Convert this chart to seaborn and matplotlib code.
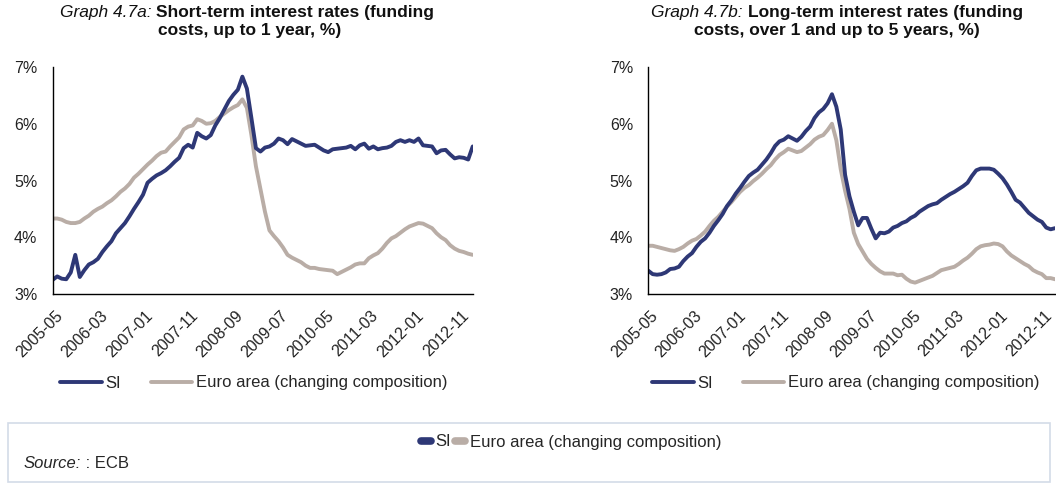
import numpy as np
import pandas as pd
import matplotlib
matplotlib.use("Agg")
import matplotlib.pyplot as plt
import matplotlib.transforms as mtransforms
import seaborn as sns
from matplotlib.lines import Line2D
from matplotlib.patches import Rectangle
from matplotlib.ticker import FuncFormatter

# monthly data, 2005-05 .. 2013-02
months = pd.period_range("2005-05", "2013-02", freq="M")

si_short = [3.25, 3.31, 3.27, 3.26, 3.38, 3.69, 3.30, 3.42, 3.52, 3.56,
            3.62, 3.74, 3.84, 3.93, 4.07, 4.16, 4.25, 4.37, 4.50, 4.62,
            4.75, 4.96, 5.03, 5.09, 5.13, 5.18, 5.25, 5.33, 5.40, 5.57,
            5.63, 5.58, 5.84, 5.78, 5.74, 5.80, 5.97, 6.10, 6.25, 6.40,
            6.51, 6.60, 6.83, 6.62, 6.10, 5.57, 5.51, 5.58, 5.60, 5.65,
            5.74, 5.71, 5.64, 5.73, 5.69, 5.65, 5.61, 5.62, 5.63, 5.58,
            5.53, 5.50, 5.55, 5.56, 5.57, 5.58, 5.61, 5.55, 5.62, 5.65,
            5.56, 5.60, 5.55, 5.57, 5.58, 5.61, 5.68, 5.71, 5.68, 5.71,
            5.68, 5.74, 5.62, 5.61, 5.60, 5.48, 5.53, 5.54, 5.46, 5.39,
            5.41, 5.40, 5.37, 5.60]
ea_short = [4.33, 4.33, 4.31, 4.27, 4.25, 4.25, 4.27, 4.33, 4.38, 4.45,
            4.50, 4.54, 4.60, 4.65, 4.72, 4.80, 4.86, 4.94, 5.05, 5.12,
            5.20, 5.28, 5.35, 5.43, 5.49, 5.51, 5.60, 5.68, 5.76, 5.90,
            5.95, 5.97, 6.08, 6.05, 6.00, 6.01, 6.05, 6.12, 6.18, 6.24,
            6.29, 6.33, 6.43, 6.28, 5.80, 5.25, 4.85, 4.45, 4.12, 4.02,
            3.93, 3.82, 3.69, 3.64, 3.60, 3.56, 3.50, 3.46, 3.46, 3.44,
            3.43, 3.42, 3.41, 3.35, 3.39, 3.43, 3.47, 3.52, 3.54, 3.54,
            3.63, 3.68, 3.72, 3.80, 3.90, 3.98, 4.02, 4.08, 4.14, 4.19,
            4.22, 4.25, 4.24, 4.20, 4.16, 4.07, 4.00, 3.95, 3.86, 3.80,
            3.76, 3.74, 3.71, 3.69]
si_long = [3.41, 3.35, 3.34, 3.35, 3.38, 3.44, 3.45, 3.48, 3.58, 3.66,
           3.72, 3.83, 3.92, 3.98, 4.08, 4.20, 4.30, 4.41, 4.55, 4.65,
           4.77, 4.87, 4.98, 5.08, 5.14, 5.19, 5.28, 5.37, 5.48, 5.61,
           5.69, 5.72, 5.78, 5.74, 5.70, 5.77, 5.87, 5.95, 6.10, 6.20,
           6.26, 6.36, 6.52, 6.30, 5.90, 5.10, 4.72, 4.45, 4.21, 4.34,
           4.34, 4.15, 3.98, 4.08, 4.07, 4.10, 4.17, 4.20, 4.25, 4.28,
           4.34, 4.38, 4.45, 4.50, 4.55, 4.58, 4.60, 4.66, 4.71, 4.76,
           4.80, 4.85, 4.90, 4.96, 5.08, 5.18, 5.21, 5.21, 5.21, 5.19,
           5.12, 5.04, 4.93, 4.80, 4.66, 4.61, 4.52, 4.43, 4.37, 4.31,
           4.27, 4.17, 4.14, 4.16]
ea_long = [3.85, 3.85, 3.83, 3.81, 3.79, 3.77, 3.76, 3.79, 3.83, 3.89,
           3.94, 3.97, 4.03, 4.10, 4.20, 4.29, 4.36, 4.45, 4.54, 4.62,
           4.71, 4.80, 4.87, 4.92, 4.99, 5.05, 5.12, 5.20, 5.27, 5.37,
           5.45, 5.50, 5.56, 5.53, 5.50, 5.52, 5.58, 5.64, 5.72, 5.77,
           5.80, 5.89, 6.00, 5.71, 5.20, 4.82, 4.50, 4.08, 3.88, 3.75,
           3.62, 3.53, 3.46, 3.40, 3.36, 3.36, 3.36, 3.33, 3.34, 3.27,
           3.22, 3.20, 3.23, 3.26, 3.29, 3.32, 3.37, 3.42, 3.44, 3.46,
           3.48, 3.53, 3.59, 3.64, 3.71, 3.79, 3.84, 3.86, 3.87, 3.89,
           3.88, 3.84, 3.75, 3.68, 3.63, 3.58, 3.53, 3.49, 3.42, 3.38,
           3.35, 3.28, 3.28, 3.26]

series_names = ["SI", "Euro area (changing composition)"]
colors = {"SI": "#2E3876", "Euro area (changing composition)": "#B9ADA6"}

sns.set_style("white")
plt.rcParams["font.family"] = ["Liberation Sans", "DejaVu Sans"]

W, H = 1056, 483
fig = plt.figure(figsize=(W / 100, H / 100), dpi=100)


def px_axes(x0, y_top, x1, y_bot):
    return fig.add_axes([x0 / W, 1 - y_bot / H, (x1 - x0) / W, (y_bot - y_top) / H])


ax1 = px_axes(52.7, 67, 472.7, 294)
ax2 = px_axes(648.3, 67, 1055, 294)

tick_pos = list(range(0, len(months), 10))
tick_lab = [months[i].strftime("%Y-%m") for i in tick_pos]
shift = mtransforms.ScaledTranslation(2 / 100, 0, fig.dpi_scale_trans)

for ax, si, ea in [(ax1, si_short, ea_short), (ax2, si_long, ea_long)]:
    df = pd.DataFrame({"idx": np.arange(len(months)), series_names[0]: si, series_names[1]: ea})
    long_df = df.melt(id_vars="idx", var_name="series", value_name="rate")
    sns.lineplot(data=long_df, x="idx", y="rate", hue="series", hue_order=series_names[::-1],
                 palette=colors, linewidth=2.8, ax=ax, legend=False)
    ax.set_xlim(0, len(months) - 1)
    ax.set_ylim(3, 7)
    ax.set_yticks([3, 4, 5, 6, 7])
    ax.yaxis.set_major_formatter(FuncFormatter(lambda v, p: f"{v:.0f}%"))
    ax.set_xticks(tick_pos)
    ax.set_xticklabels(tick_lab, rotation=45, ha="right", rotation_mode="anchor")
    ax.tick_params(axis="both", length=0, labelsize=11.5, colors="#222222")
    ax.tick_params(axis="x", pad=10)
    ax.tick_params(axis="y", pad=11)
    for lab in ax.get_xticklabels():
        lab.set_transform(lab.get_transform() + shift)
    ax.set_xlabel("")
    ax.set_ylabel("")
    for s in ["top", "right"]:
        ax.spines[s].set_visible(False)
    for s in ["left", "bottom"]:
        ax.spines[s].set_color("black")
        ax.spines[s].set_linewidth(1.0)

renderer = fig.canvas.get_renderer()


def mixed_line(xc, y, parts, size=12.5):
    # several text runs with different styles, centred as one line
    objs = []
    for txt, style, weight in parts:
        objs.append(fig.text(0, 1 - y / H, txt, fontstyle=style, fontweight=weight,
                             fontsize=size, va="center", ha="left", color="#111111"))
    widths = [o.get_window_extent(renderer).width for o in objs]
    x = xc - sum(widths) / 2
    for o, w in zip(objs, widths):
        o.set_x(x / W)
        x += w


mixed_line(247, 12, [("Graph 4.7a: ", "italic", "normal"),
                     ("Short-term interest rates (funding", "normal", "bold")])
mixed_line(250, 31, [("costs, up to 1 year, %)", "normal", "bold")])
mixed_line(837, 12, [("Graph 4.7b: ", "italic", "normal"),
                     ("Long-term interest rates (funding", "normal", "bold")])
mixed_line(837, 31, [("costs, over 1 and up to 5 years, %)", "normal", "bold")])

# legends under each chart
handles = [Line2D([], [], color=colors[n], linewidth=2.8) for n in series_names]
for x0 in [60, 652]:
    fig.legend(handles, series_names, loc="center left",
               bbox_to_anchor=(x0 / W, 1 - 383 / H), ncol=2, frameon=False,
               fontsize=12, handlelength=2.5, handletextpad=0.2,
               columnspacing=1.8, borderpad=0, borderaxespad=0)

# bottom box with source
fig.patches.append(Rectangle((8 / W, 1.5 / H), 1042 / W, 58.5 / H, transform=fig.transFigure,
                             facecolor="white", edgecolor="#D3DBE8", linewidth=1.2))
box_handles = [Line2D([], [], color=colors[n], linewidth=5.5, solid_capstyle="round")
               for n in series_names]
fig.legend(box_handles, series_names, loc="center", bbox_to_anchor=(571 / W, 1 - 442 / H),
           ncol=2, frameon=False, fontsize=12, handlelength=0.6, handletextpad=0.3,
           columnspacing=0.2, borderpad=0, borderaxespad=0)
src1 = fig.text(24 / W, 1 - 464 / H, "Source:", fontstyle="italic", fontsize=12, va="center")
w1 = src1.get_window_extent(renderer).width
fig.text((24 + w1) / W, 1 - 464 / H, " : ECB", fontsize=12, va="center")

fig.savefig("out.png", dpi=100)
